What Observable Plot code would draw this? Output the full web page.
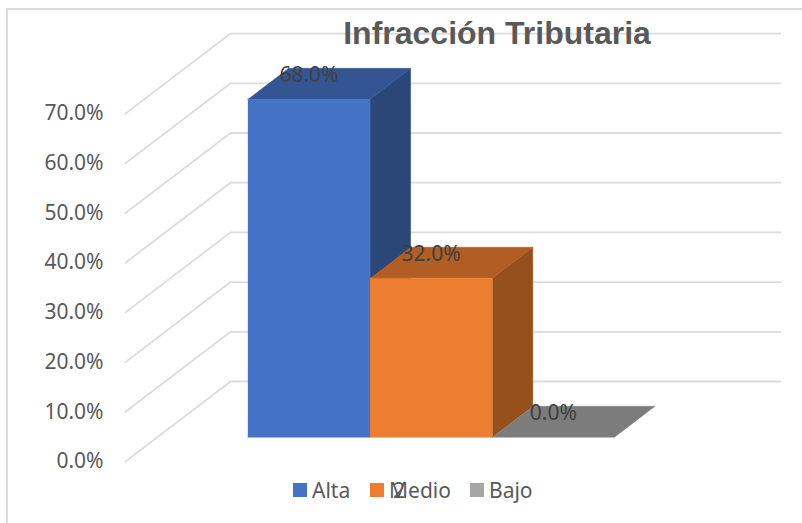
<!DOCTYPE html>
<html><head><meta charset="utf-8">
<script src="https://cdn.jsdelivr.net/npm/d3@7"></script>
<script src="https://cdn.jsdelivr.net/npm/@observablehq/plot@0.6"></script>
<style>
html,body{margin:0;padding:0;background:#fff;}
#wrap{position:relative;width:802px;height:523px;overflow:hidden;}
#wrap svg{position:absolute;left:0;top:0;background:transparent;}
#frame{position:absolute;left:6px;top:8px;right:-10px;bottom:-10px;border:2px solid #dcdcdc;}
#title{position:absolute;left:197px;width:600px;top:15px;text-align:center;margin:0;font:bold 32px "Liberation Sans",Arial,sans-serif;color:#595959;line-height:37px;}
#legend{position:absolute;left:0;top:478px;width:802px;height:24px;font:21px "Noto Sans",sans-serif;color:#595959;line-height:24px;}
#legend span{position:absolute;white-space:nowrap;}
#legend i{position:absolute;width:14px;height:14px;top:5px;}
#stray{position:absolute;left:393px;top:478px;font:21px "Noto Sans",sans-serif;color:#595959;line-height:24px;}
</style></head>
<body>
<div id="wrap">
<div id="frame"></div>
<div id="chart"></div>
<h1 id="title">Infracción Tributaria</h1>
<div id="legend"></div>
<div id="stray">2</div>
</div>
<script>
const categories = ["Alta", "Medio", "Bajo"];
const values = [68, 32, 0];
const gridValues = [0, 10, 20, 30, 40, 50, 60, 70];
const frontColors = ["#4472C4", "#ED7D31", "#A5A5A5"];
const topColors = ["#335593", "#B25D24", "#7C7C7C"];
const sideColors = ["#2A4778", "#95501B", "#636363"];
const floorUnits = 4.5;
const gapUnits = 0.74;
const barFront = 0.304;
const barBack = 0.69;
const skewX = 105 / 122.2;
const skewY = 16.1;

const p = (X, v, d, key, color) => ({x: X + d * skewX, y: v + d * skewY, key, color});
const grid = gridValues.flatMap(v => [
  p(0, v, 0, "g" + v), p(0, v, 1, "g" + v), p(floorUnits, v, 1, "g" + v)
]);
const faces = categories.flatMap((c, i) => {
  const L = gapUnits + i, R = L + 1, v = values[i];
  const front = [p(L,0,barFront), p(R,0,barFront), p(R,v,barFront), p(L,v,barFront)];
  const top = [p(L,v,barFront), p(R,v,barFront), p(R,v,barBack), p(L,v,barBack)];
  const side = [p(R,0,barFront), p(R,0,barBack), p(R,v,barBack), p(R,v,barFront)];
  const out = [];
  if (v > 0) out.push(...side.map(q => ({...q, key: c + "s", color: sideColors[i]})));
  out.push(...top.map(q => ({...q, key: c + "t", color: topColors[i]})));
  if (v > 0) out.push(...front.map(q => ({...q, key: c + "f", color: frontColors[i]})));
  return out;
});
const labels = categories.map((c, i) => ({
  ...p(gapUnits + i + 0.5, values[i] + 4.9, barFront),
  text: values[i].toFixed(1) + "%"
}));

const chart = Plot.plot({
  width: 802, height: 523,
  marginLeft: 125, marginRight: 0, marginTop: 0, marginBottom: 0,
  style: {background: "transparent", overflow: "visible"},
  x: {domain: [0, 677 / 122.2], axis: null},
  y: {domain: [-62 / 4.97, 461 / 4.97], ticks: gridValues},
  marks: [
    Plot.axisY(gridValues, {
      anchor: "left", tickSize: 0, tickPadding: 22,
      tickFormat: d => d.toFixed(1) + "%", label: null,
      fontSize: 21, fontFamily: "Noto Sans", fill: "#595959"
    }),
    Plot.line(grid, {x: "x", y: "y", z: "key", stroke: "#dcdcdc", strokeWidth: 1.8, curve: "linear"}),
    Plot.line(faces, {x: "x", y: "y", z: "key", fill: "color", stroke: "color", strokeWidth: 0.5, curve: "linear"}),
    Plot.text(labels, {x: "x", y: "y", text: "text", fontSize: 21, fontFamily: "Noto Sans", fill: "#404040"})
  ]
});
document.getElementById("chart").append(chart);

const legendX = [293, 370, 470];
const lg = document.getElementById("legend");
categories.forEach((c, i) => {
  const sw = document.createElement("i");
  sw.style.left = legendX[i] + "px";
  sw.style.background = frontColors[i];
  const t = document.createElement("span");
  t.style.left = (legendX[i] + 19) + "px";
  t.textContent = c;
  lg.append(sw, t);
});
</script>
</body></html>
